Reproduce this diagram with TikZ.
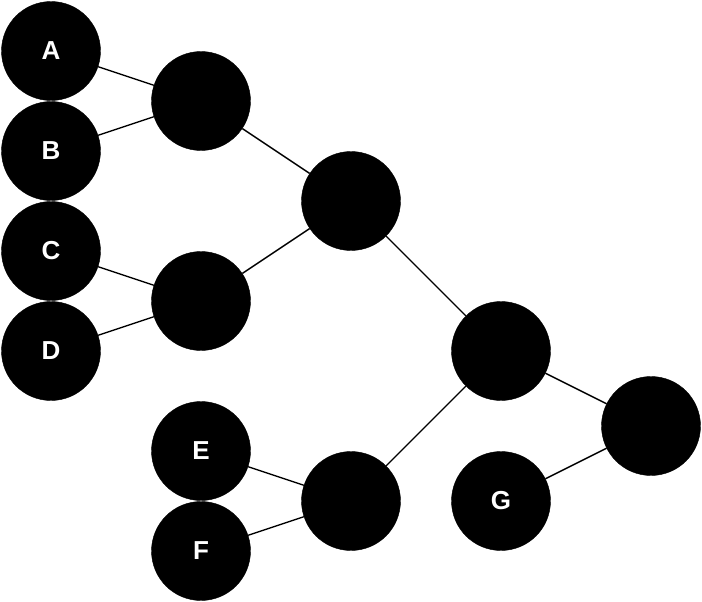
\documentclass[tikz,border=0pt]{standalone}
\usepackage{fontspec}
\setmainfont{Liberation Sans}
\begin{document}
\begin{tikzpicture}[x=1pt,y=-1pt,
  dot/.style={circle,draw=black,fill=black,minimum size=99pt,inner sep=0pt,
    text=white,font=\fontsize{26}{30}\selectfont\bfseries},
  link/.style={draw=black,line width=1.4pt}]
\useasboundingbox (0,0) rectangle (702,602);
\node[dot] (A) at (51,51) {A};
\node[dot] (B) at (51,151) {B};
\node[dot] (C) at (51,251) {C};
\node[dot] (D) at (51,351) {D};
\node[dot] (E) at (201,451) {E};
\node[dot] (F) at (201,551) {F};
\node[dot] (G) at (501,501) {G};
\node[dot] (AB) at (201,101) {};
\node[dot] (CD) at (201,301) {};
\node[dot] (ABCD) at (351,201) {};
\node[dot] (EF) at (351,501) {};
\node[dot] (M) at (501,351) {};
\node[dot] (R) at (651,426) {};
\draw[link] (A) -- (AB);
\draw[link] (B) -- (AB);
\draw[link] (C) -- (CD);
\draw[link] (D) -- (CD);
\draw[link] (AB) -- (ABCD);
\draw[link] (CD) -- (ABCD);
\draw[link] (E) -- (EF);
\draw[link] (F) -- (EF);
\draw[link] (ABCD) -- (M);
\draw[link] (EF) -- (M);
\draw[link] (M) -- (R);
\draw[link] (G) -- (R);
\end{tikzpicture}
\end{document}
